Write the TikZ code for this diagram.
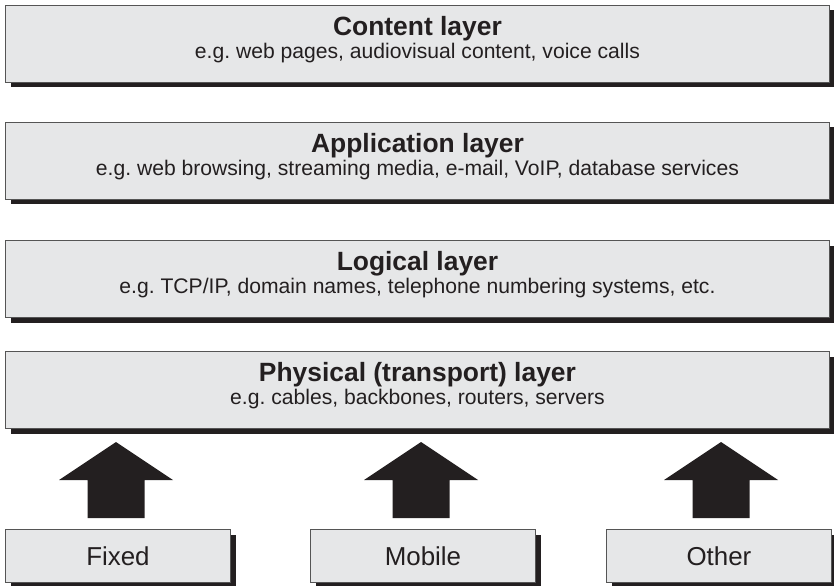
\documentclass[tikz,border=0pt]{standalone}
\usepackage{fontspec}
\setmainfont{Liberation Sans}
\frenchspacing
\definecolor{boxfill}{HTML}{E6E7E8}
\definecolor{boxline}{HTML}{555555}
\definecolor{shadowcol}{HTML}{231F20}
\tikzset{
  layerbox/.style={draw=boxline, line width=0.9bp, fill=boxfill, minimum width=824bp, minimum height=77bp, inner sep=0pt, anchor=north west},
  srcbox/.style={draw=boxline, line width=0.9bp, fill=boxfill, minimum width=225bp, minimum height=53bp, inner sep=0pt, anchor=north west, text=shadowcol, font=\fontsize{26}{30}\selectfont},
  title/.style={anchor=base, font=\fontsize{26.5}{30}\selectfont\bfseries, text=shadowcol, inner sep=0pt},
  sub/.style={anchor=base, font=\fontsize{21.2}{24}\selectfont, text=shadowcol, inner sep=0pt},
  blockarrow/.style={fill=shadowcol, draw=none},
  dropshadow/.style={fill=shadowcol, draw=none}
}
\newcommand{\shadowbox}[7]{% name, x, y, style, width, height, text
  \fill[dropshadow] (#2+5.5,#3+5.5) rectangle ++(#5,#6);
  \node[#4] (#1) at (#2,#3) {#7};
}
\begin{document}
\begin{tikzpicture}[x=1bp,y=-1bp]
\useasboundingbox (0,0) rectangle (834,586);
% layers
\shadowbox{content}{5}{5}{layerbox}{824}{77}{}
\shadowbox{app}{5}{122}{layerbox}{824}{77}{}
\shadowbox{logical}{5}{240}{layerbox}{824}{77}{}
\shadowbox{physical}{5}{351}{layerbox}{824}{77}{}
\foreach \n/\t/\s in {content/Content layer/{e.g. web pages, audiovisual content, voice calls},
                      app/Application layer/{e.g. web browsing, streaming media, e-mail, VoIP, database services},
                      logical/Logical layer/{e.g. TCP/IP, domain names, telephone numbering systems, etc.},
                      physical/Physical (transport) layer/{e.g. cables, backbones, routers, servers}}{
  \node[title] (\n-t) at ([yshift=8.5bp]\n.center) {\t};
  \node[sub] (\n-s) at ([yshift=-14.5bp]\n.center) {\s};
}
% sources
\shadowbox{fixed}{5}{529}{srcbox}{225}{53}{Fixed}
\shadowbox{mobile}{310}{529}{srcbox}{225}{53}{Mobile}
\shadowbox{other}{606}{529}{srcbox}{225}{53}{Other}
% block arrows
\foreach \c in {116,421,721}{
  \fill[blockarrow] (\c,442) -- (\c+57,480) -- (\c+28.5,480) -- (\c+28.5,518)
     -- (\c-28.5,518) -- (\c-28.5,480) -- (\c-57,480) -- cycle;
}
\end{tikzpicture}
\end{document}
